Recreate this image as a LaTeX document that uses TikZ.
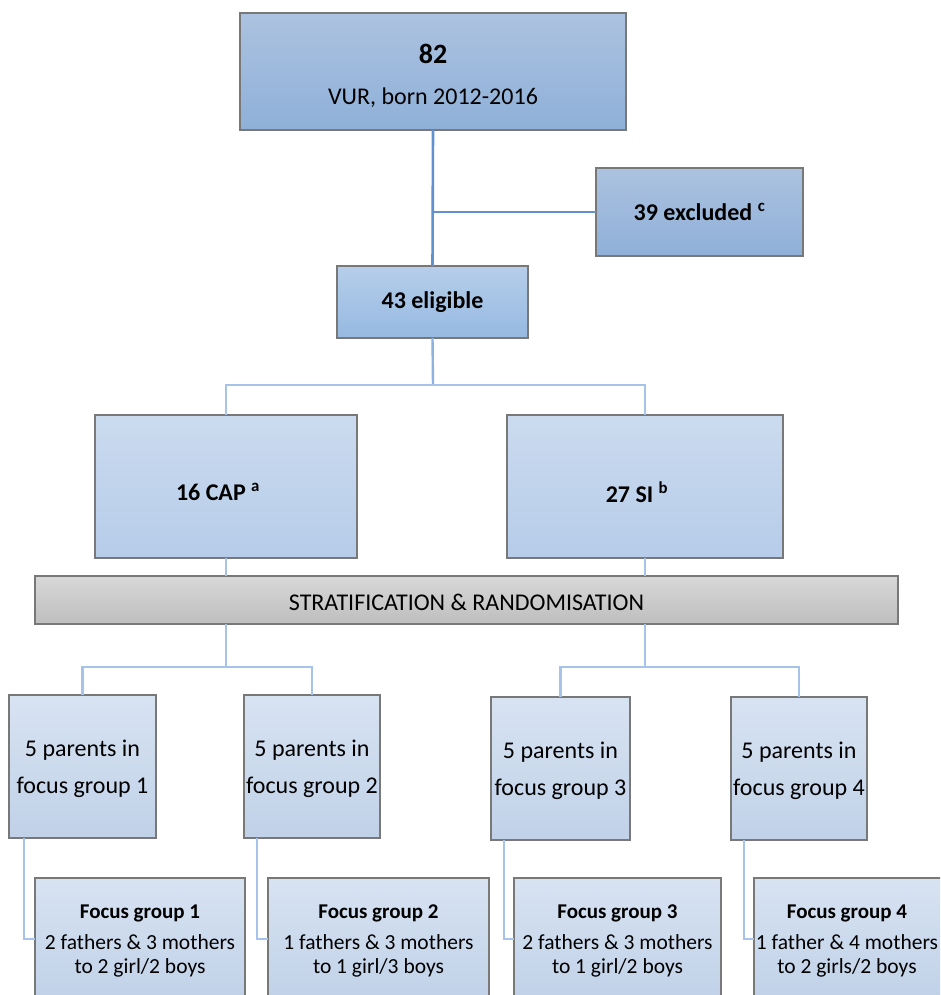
\documentclass[tikz,border=0pt]{standalone}
\usepackage{fontspec}
\setmainfont{Carlito}
\definecolor{lnA}{RGB}{96,146,210}
\definecolor{lnB}{RGB}{140,178,224}
\definecolor{lnC}{RGB}{166,196,234}
\definecolor{bordc}{RGB}{120,120,120}
\tikzset{
  bx/.style={draw=bordc, line width=1.1pt, inner sep=0pt, outer sep=0pt, anchor=north west},
  darkbx/.style={bx, top color={rgb,255:red,172;green,194;blue,224}, bottom color={rgb,255:red,143;green,176;blue,216}},
  midbx/.style={bx, top color={rgb,255:red,182;green,206;blue,234}, bottom color={rgb,255:red,150;green,185;blue,225}},
  lightbx/.style={bx, top color={rgb,255:red,203;green,219;blue,239}, bottom color={rgb,255:red,182;green,204;blue,233}},
  palebx/.style={bx, top color={rgb,255:red,216;green,227;blue,242}, bottom color={rgb,255:red,192;green,209;blue,232}},
  graybx/.style={bx, top color={rgb,255:red,216;green,216;blue,216}, bottom color={rgb,255:red,190;green,190;blue,190}},
  txt/.style={inner sep=0pt, outer sep=0pt, align=center},
  conA/.style={draw=lnA, line width=2.6pt},
  conB/.style={draw=lnB, line width=2.4pt},
  conC/.style={draw=lnC, line width=2.2pt},
}
\begin{document}
\begin{tikzpicture}[x=1pt,y=-1pt]
\clip (0,0) rectangle (940,995);
\useasboundingbox (0,0) rectangle (940,995);
% boxes
\node[darkbx, minimum width=386pt, minimum height=117pt] (top) at (240,13) {};
\node[txt, font=\fontsize{24}{41}\selectfont] (toptxt) at (433,76) {{\bfseries\fontsize{28}{41}\selectfont 82}\\VUR, born 2012-2016};
\node[darkbx, minimum width=207pt, minimum height=88pt] (excl) at (596,168) {};
\node[txt, font=\bfseries\fontsize{24}{28}\selectfont] (excltxt) at (699.5,212) {39 excluded \textsuperscript{c}};
\node[midbx, minimum width=191pt, minimum height=72pt] (elig) at (337,266) {};
\node[txt, font=\bfseries\fontsize{24}{28}\selectfont] (eligtxt) at (432.5,302) {43 eligible};
\node[lightbx, minimum width=262pt, minimum height=143pt] (cap) at (95,415) {};
\node[txt, font=\bfseries\fontsize{24}{28}\selectfont] (captxt) at (218,492) {16 CAP \textsuperscript{a}};
\node[lightbx, minimum width=276pt, minimum height=143pt] (si) at (507,415) {};
\node[txt, font=\bfseries\fontsize{24}{28}\selectfont] (sitxt) at (637,492) {27 SI \textsuperscript{b}};
\node[graybx, minimum width=863pt, minimum height=48pt] (strat) at (35,576) {};
\node[txt, font=\fontsize{24}{28}\selectfont] (strattxt) at (466.5,602) {STRATIFICATION \& RANDOMISATION};
% parent boxes
\node[palebx, minimum width=147pt, minimum height=143pt] (p1) at (9,695) {};
\node[palebx, minimum width=136pt, minimum height=143pt] (p2) at (244,695) {};
\node[palebx, minimum width=139pt, minimum height=143pt] (p3) at (491,697) {};
\node[palebx, minimum width=136pt, minimum height=143pt] (p4) at (731,697) {};
\foreach \n/\k in {p1/1,p2/2,p3/3,p4/4}{
  \node[txt, font=\fontsize{24}{37}\selectfont] (\n txt) at ([yshift=-2pt]\n.center) {5 parents in\\focus group \k};
}
% bottom boxes
\node[palebx, minimum width=210pt, minimum height=122pt] (b1) at (35,878) {};
\node[palebx, minimum width=221pt, minimum height=122pt] (b2) at (268,878) {};
\node[palebx, minimum width=207pt, minimum height=122pt] (b3) at (514,878) {};
\node[palebx, minimum width=190pt, minimum height=122pt] (b4) at (754,878) {};
\node[txt, font=\fontsize{21.5}{24}\selectfont] (b1txt) at (140,941) {{\bfseries\fontsize{21}{24}\selectfont Focus group 1}\\[7pt]2 fathers \& 3 mothers\\to 2 girl/2 boys};
\node[txt, font=\fontsize{21.5}{24}\selectfont] (b2txt) at (378.5,941) {{\bfseries\fontsize{21}{24}\selectfont Focus group 2}\\[7pt]1 fathers \& 3 mothers\\to 1 girl/3 boys};
\node[txt, font=\fontsize{21.5}{24}\selectfont] (b3txt) at (617.5,941) {{\bfseries\fontsize{21}{24}\selectfont Focus group 3}\\[7pt]2 fathers \& 3 mothers\\to 1 girl/2 boys};
\node[txt, font=\fontsize{21.5}{24}\selectfont] (b4txt) at (847,941) {{\bfseries\fontsize{21}{24}\selectfont Focus group 4}\\[7pt]1 father \& 4 mothers\\to 2 girls/2 boys};
% connectors
\coordinate (s1) at (433,385);
\coordinate (s2) at (226,667);
\coordinate (s3) at (645,667);
\draw[conA] (top.south) -- (elig.north);
\draw[conA] (top.south |- excl.west) -- (excl.west);
\draw[conB] (elig.south) -- (s1);
\draw[conC] (cap.north) |- (s1) -| (si.north);
\draw[conC] (cap.south) -- (cap.south |- strat.north);
\draw[conC] (si.south) -- (si.south |- strat.north);
\draw[conC] (strat.south -| s2) -- (s2);
\draw[conC] (strat.south -| s3) -- (s3);
\draw[conC] (p1.north) |- (s2) -| (p2.north);
\draw[conC] (p3.north) |- (s3) -| (p4.north);
\draw[conC] ([xshift=15pt]p1.south west) |- (b1.west);
\draw[conC] ([xshift=13pt]p2.south west) |- (b2.west);
\draw[conC] ([xshift=13pt]p3.south west) |- (b3.west);
\draw[conC] ([xshift=13pt]p4.south west) |- (b4.west);
\end{tikzpicture}
\end{document}
